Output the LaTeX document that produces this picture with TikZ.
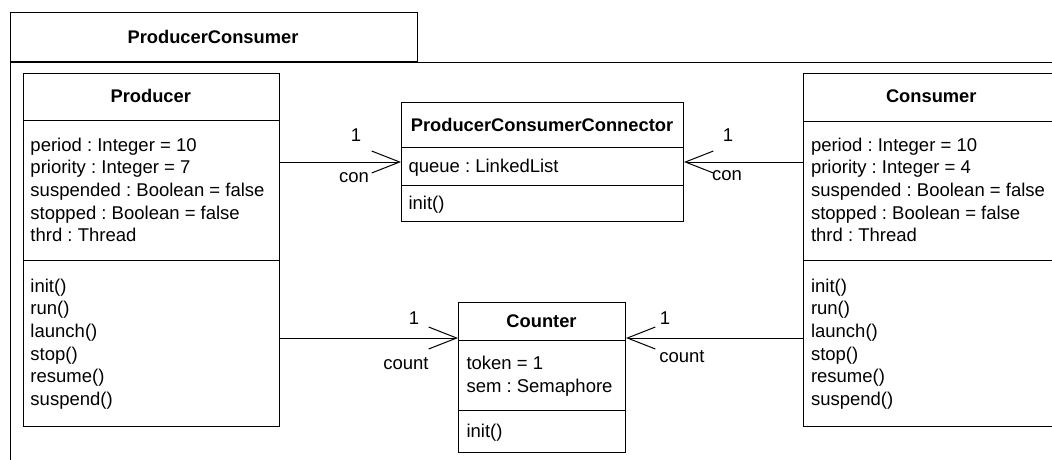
\documentclass[tikz,border=0pt]{standalone}
\usepackage{fontspec}
\setmainfont{Liberation Sans}
\usetikzlibrary{arrows.meta}
\begin{document}
\frenchspacing
\begin{tikzpicture}[x=1pt,y=-1pt, line width=1pt,
  box/.style={draw, inner sep=0pt, anchor=north west},
  txt/.style={inner sep=0pt, anchor=base west, align=left, font=\fontsize{18.5}{22.6}\selectfont},
  ttl/.style={inner sep=0pt, anchor=base, font=\fontsize{18.3}{22.6}\selectfont\bfseries},
  lbl/.style={inner sep=0pt, font=\fontsize{18.5}{22.6}\selectfont},
  assoc/.style={-{Straight Barb[length=28pt,width=22pt]}}]
\useasboundingbox (0,0) rectangle (1052,459);
\fill[white] (0,0) rectangle (1052,459);
% package frame
\node[box, minimum width=406.5pt, minimum height=49pt] (tab) at (10,12) {};
\coordinate (pkgBR) at (1070,480);
\draw (tab.south west |- pkgBR) -- (tab.south west) -- (tab.south west -| pkgBR);
\node[ttl] (pkgname) at (213,43.5) {ProducerConsumer};
% Producer
\node[box, minimum width=256.5pt, minimum height=353.5pt] (prod) at (22.5,72.5) {};
\draw (prod.west |- 0,120.5) -- (prod.east |- 0,120.5);
\draw (prod.west |- 0,260.5) -- (prod.east |- 0,260.5);
\node[ttl] (prodname) at (150.75,102.5) {Producer};
% base anchor of a multi-line node = baseline of its last line
\node[txt] (prodattr) at (30,241.7) {period : Integer = 10\\priority : Integer = 7\\suspended : Boolean = false\\stopped : Boolean = false\\thrd : Thread};
\node[txt] (prodops) at (30,405.3) {init()\\run()\\launch()\\stop()\\resume()\\suspend()};
% Consumer
\node[box, minimum width=256.5pt, minimum height=353.5pt] (cons) at (803,72.5) {};
\draw (cons.west |- 0,121) -- (cons.east |- 0,121);
\draw (cons.west |- 0,260.5) -- (cons.east |- 0,260.5);
\node[ttl] (consname) at (931.25,102.5) {Consumer};
\node[txt] (consattr) at (810.5,241.7) {period : Integer = 10\\priority : Integer = 4\\suspended : Boolean = false\\stopped : Boolean = false\\thrd : Thread};
\node[txt] (consops) at (810.5,405.3) {init()\\run()\\launch()\\stop()\\resume()\\suspend()};
% ProducerConsumerConnector
\node[box, minimum width=282pt, minimum height=119pt] (pcc) at (401,102) {};
\draw (pcc.west |- 0,147) -- (pcc.east |- 0,147);
\draw (pcc.west |- 0,185) -- (pcc.east |- 0,185);
\node[ttl] (pccname) at (542,131) {ProducerConsumerConnector};
\node[txt] (pccattr) at (408,172) {queue : LinkedList};
\node[txt] (pccops) at (408,209) {init()};
% Counter
\node[box, minimum width=167pt, minimum height=150pt] (cnt) at (458,302) {};
\draw (cnt.west |- 0,340) -- (cnt.east |- 0,340);
\draw (cnt.west |- 0,410) -- (cnt.east |- 0,410);
\node[ttl] (cntname) at (541.5,327.5) {Counter};
\node[txt] (cntattr) at (466,392.3) {token = 1\\sem : Semaphore};
\node[txt] (cntops) at (466,437) {init()};
% connectors
\coordinate (cntL) at (cnt.west |- 0,338);
\coordinate (cntR) at (cnt.east |- 0,338);
\draw[assoc] (prod.east |- pcc.west) -- (pcc.west);
\draw[assoc] (cons.west |- pcc.east) -- (pcc.east);
\draw[assoc] (prod.east |- cntL) -- (cntL);
\draw[assoc] (cons.west |- cntR) -- (cntR);
% labels
\node[lbl] (l1a) at (356,135) {1};
\node[lbl] (l1b) at (354,178) {con};
\node[lbl] (r1a) at (728,135) {1};
\node[lbl] (r1b) at (727,176) {con};
\node[lbl] (l2a) at (414,318) {1};
\node[lbl] (l2b) at (406,364) {count};
\node[lbl] (r2a) at (665,318) {1};
\node[lbl] (r2b) at (682,357) {count};
\end{tikzpicture}
\end{document}
